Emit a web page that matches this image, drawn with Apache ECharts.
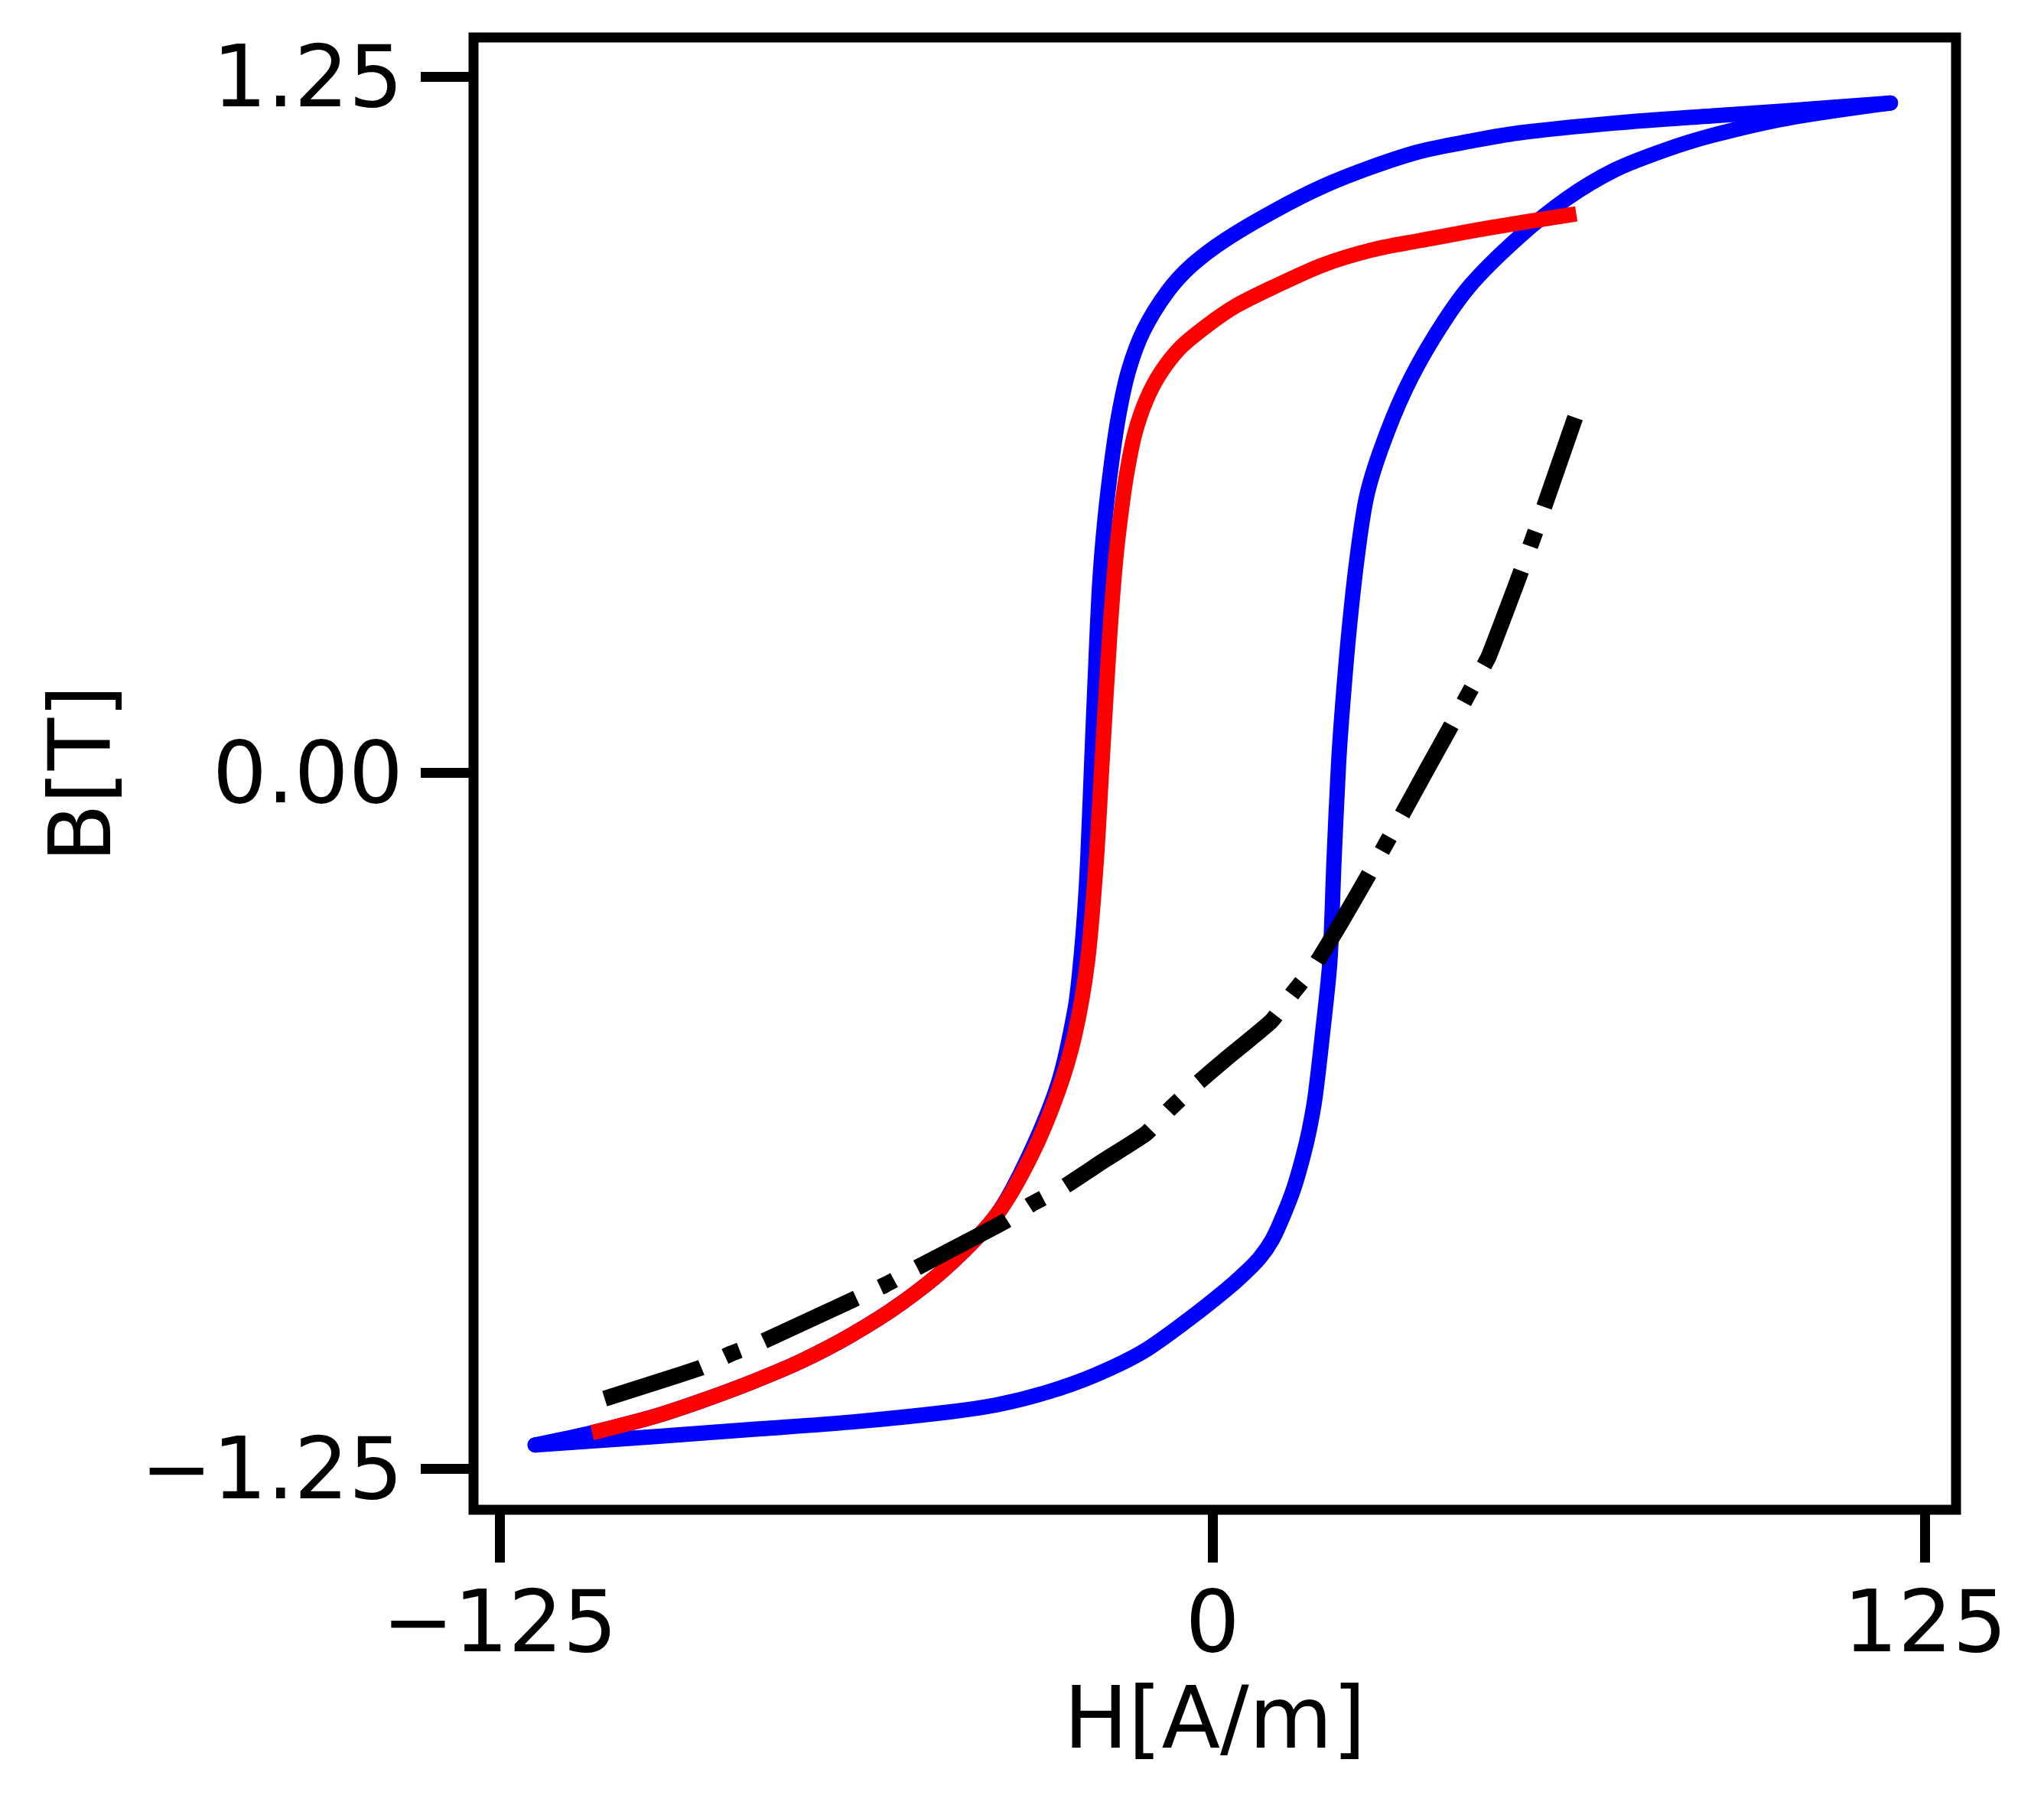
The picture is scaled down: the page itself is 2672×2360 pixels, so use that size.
<!DOCTYPE html>
<html lang="en">
<head>
    <meta charset="UTF-8">
    <title>hysteresis</title>
    <style>
        html, body { margin: 0; padding: 0; background: #ffffff; }
        #container { width: 2672px; height: 2360px; }
    </style>
</head>
<body>
    <div id="container"></div>

    <script src="https://cdn.jsdelivr.net/npm/echarts@6/dist/echarts.min.js"></script>
    <script>
        // major loop (blue), upper branch: right tip -> left tip
        var blueUpH = [118.9, 100.5, 87.7, 70.6, 53.5, 45.0, 36.4, 27.9, 19.3, 10.8, 2.2,
            -3.6, -7.9, -12.1, -14.7, -16.4, -17.7, -18.9, -19.8, -20.6, -21.2, -21.9,
            -22.4, -23.1, -24.1, -27.0, -32.2, -37.8, -46.3, -54.9, -63.4, -72.0, -80.5,
            -89.1, -97.6, -108.8, -118.8];
        var blueUpB = [1.203, 1.189, 1.180, 1.167, 1.149, 1.134, 1.116, 1.088, 1.053, 1.009, 0.957,
            0.912, 0.864, 0.794, 0.723, 0.645, 0.557, 0.451, 0.337, 0.162, 0.014, -0.161,
            -0.249, -0.337, -0.424, -0.556, -0.688, -0.793, -0.885, -0.955, -1.010, -1.056, -1.093,
            -1.126, -1.155, -1.185, -1.207];

        // major loop (blue), lower branch: left tip -> right tip
        var blueLoH = [-118.8, -97.6, -80.5, -63.4, -46.3, -37.8, -29.2, -20.7, -12.1, -3.6, 2.2, 5.2, 8.2,
            10.5, 12.5, 14.3, 15.9, 17.0, 18.0, 19.3, 20.6, 21.3, 22.1, 22.8, 23.9, 25.3, 27.0, 29.6,
            33.8, 39.0, 45.0, 53.5, 62.1, 70.6, 79.2, 87.7, 100.5, 118.9];
        var blueLoB = [-1.207, -1.192, -1.179, -1.166, -1.148, -1.135, -1.113, -1.082, -1.039, -0.977, -0.930, -0.903, -0.872,
            -0.838, -0.793, -0.745, -0.688, -0.640, -0.582, -0.468, -0.337, -0.161, 0.014, 0.118, 0.250, 0.381, 0.495, 0.583,
            0.688, 0.785, 0.873, 0.960, 1.031, 1.083, 1.118, 1.145, 1.175, 1.203];

        // minor branch (red)
        var redH = [-108.8, -97.6, -89.1, -80.5, -72.0, -63.4, -54.9, -46.3, -37.8, -31.8,
            -27.1, -24.1, -21.9, -20.4, -19.4, -18.0, -17.0, -16.0, -15.0, -13.6, -11.6,
            -9.0, -5.5, -1.0, 4.0, 10.8, 19.3, 27.9, 36.4, 49.2, 63.8];
        var redB = [-1.185, -1.155, -1.126, -1.093, -1.056, -1.010, -0.955, -0.885, -0.793, -0.688,
            -0.573, -0.468, -0.337, -0.161, 0.014, 0.250, 0.381, 0.470, 0.540, 0.610, 0.670,
            0.720, 0.765, 0.803, 0.838, 0.873, 0.912, 0.939, 0.956, 0.980, 1.004];

        // dash-dot curve (black)
        var blackH = [-106.6, -89.9, -84.4, -78.8, -63.0, -57.5, -51.9, -44.6, -36.5, -31.8,
            -26.3, -19.0, -11.7, -7.5, -2.7, 2.2, 10.3, 14.2, 18.0, 22.7, 27.0, 30.0,
            33.2, 37.7, 41.5, 44.1, 46.7, 48.4, 53.5, 56.1, 57.9, 63.6];
        var blackB = [-1.124, -1.069, -1.043, -1.021, -0.946, -0.920, -0.889, -0.850, -0.806, -0.775,
            -0.745, -0.696, -0.648, -0.604, -0.558, -0.515, -0.446, -0.394, -0.345, -0.266, -0.190, -0.135,
            -0.076, 0.008, 0.078, 0.127, 0.176, 0.208, 0.345, 0.418, 0.470, 0.638];

        var xTicks = [-125, 0, 125];
        var yTicks = [-1.25, 0, 1.25];

        function zip(xs, ys) {
            var out = [];
            for (var i = 0; i < xs.length; i++) {
                out.push([xs[i], ys[i]]);
            }
            return out;
        }

        function minus(s) {
            return s.replace('-', '\u2212');
        }

        var myChart = echarts.init(document.getElementById('container'));
        var fontFamily = 'DejaVu Sans';
        var fontSize = 112;
        var lw = 20;

        function curve(data, color, z, smooth, extra) {
            var s = {
                type: 'line',
                data: data,
                showSymbol: false,
                smooth: smooth,
                z: z,
                lineStyle: { color: color, width: lw, cap: 'round', join: 'round' }
            };
            if (extra) {
                for (var k in extra) s.lineStyle[k] = extra[k];
            }
            return s;
        }

        var option = {
            backgroundColor: '#ffffff',
            animation: false,
            grid: {
                left: 619,
                right: 115,
                top: 49,
                bottom: 386,
                show: true,
                borderColor: '#000000',
                borderWidth: 13,
                backgroundColor: 'transparent'
            },
            xAxis: {
                type: 'value',
                min: -129.6,
                max: 130.4,
                name: 'H[A/m]',
                nameLocation: 'middle',
                nameGap: 226,
                nameTextStyle: { color: '#000', fontFamily: fontFamily, fontSize: fontSize },
                axisLine: { show: false, onZero: false },
                splitLine: { show: false },
                axisTick: {
                    show: true,
                    inside: false,
                    length: 69,
                    customValues: xTicks,
                    lineStyle: { color: '#000', width: 13 }
                },
                axisLabel: {
                    show: true,
                    margin: 100,
                    customValues: xTicks,
                    color: '#000',
                    fontFamily: fontFamily,
                    fontSize: fontSize,
                    formatter: function (v) { return minus(String(v)); }
                }
            },
            yAxis: {
                type: 'value',
                min: -1.3235,
                max: 1.3207,
                name: 'B[T]',
                nameLocation: 'middle',
                nameGap: 448,
                nameTextStyle: { color: '#000', fontFamily: fontFamily, fontSize: fontSize },
                axisLine: { show: false, onZero: false },
                splitLine: { show: false },
                axisTick: {
                    show: true,
                    inside: false,
                    length: 69,
                    customValues: yTicks,
                    lineStyle: { color: '#000', width: 13 }
                },
                axisLabel: {
                    show: true,
                    margin: 92,
                    verticalAlign: 'top',
                    lineHeight: 18,
                    customValues: yTicks,
                    color: '#000',
                    fontFamily: fontFamily,
                    fontSize: fontSize,
                    formatter: function (v) { return minus(v.toFixed(2)); }
                }
            },
            series: [
                curve(zip(blueUpH, blueUpB), '#0000ff', 2, 0.3),
                curve(zip(blueLoH, blueLoB), '#0000ff', 2, 0.3),
                curve(zip(redH, redB), '#ff0000', 3, 0.3, { cap: 'butt' }),
                curve(zip(blackH, blackB), '#000000', 4, 0.15, { width: 21, type: [133, 34, 21, 34], cap: 'butt' })
            ]
        };
        myChart.setOption(option);
    </script>
</body>
</html>
